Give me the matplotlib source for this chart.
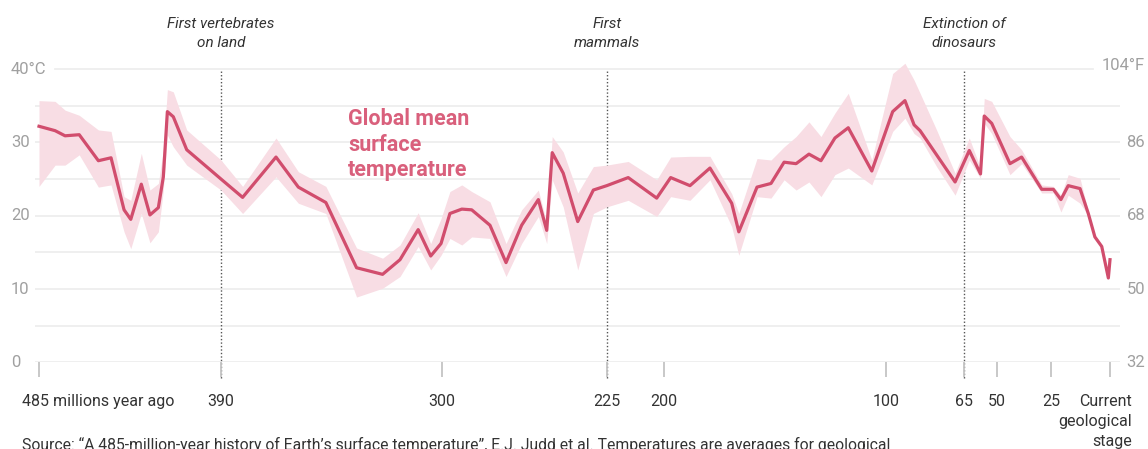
import numpy as np
import matplotlib
matplotlib.use("Agg")
import matplotlib.pyplot as plt
from matplotlib import transforms

# ---------------- data ----------------
ages = [485, 476.6, 471.4, 464.0, 454.0, 447.4, 440.6, 437.1, 431.6, 427.1,
        422.7, 420.1, 418.0, 414.9, 407.9, 390, 381.2, 367.6, 358.5, 347.3,
        334.8, 324.2, 317.1, 309.7, 304.6, 300.4, 296.4, 291.0, 286.5, 278.2,
        270.9, 263.8, 256.2, 252.4, 249.9, 244.9, 238.3, 231.2, 225.1, 215.7,
        203.2, 197.0, 188.3, 179.3, 169.5, 166.3, 158.1, 151.8, 145.9, 140.5,
        134.7, 129.3, 123.0, 117.0, 106.4, 97.0, 91.5, 87.4, 84.7, 77.3,
        69.0, 62.6, 57.5, 55.8, 52.4, 44.0, 38.6, 29.3, 24.0, 20.8,
        17.7, 12.7, 9.2, 6.4, 3.5, 0.7, 0.0]
temp_mean = [32.2, 31.6, 30.9, 31.05, 27.5, 27.9, 20.8, 19.5, 24.3, 20.1,
             21.1, 25.3, 34.2, 33.5, 29.0, 25.0, 22.5, 28.0, 23.9, 21.8,
             12.9, 12.0, 14.0, 18.1, 14.5, 16.2, 20.3, 20.9, 20.8, 18.7,
             13.6, 18.7, 22.2, 18.0, 28.6, 25.8, 19.2, 23.5, 24.1, 25.2,
             22.4, 25.2, 24.1, 26.5, 21.7, 17.8, 23.9, 24.4, 27.3, 27.1,
             28.4, 27.5, 30.6, 32.0, 26.1, 34.2, 35.7, 32.4, 31.6, 28.3,
             24.6, 28.9, 25.7, 33.6, 32.6, 27.1, 28.0, 23.6, 23.6, 22.2,
             24.1, 23.7, 20.3, 17.1, 15.8, 11.5, 14.0]
temp_low = [24.0, 26.9, 26.9, 28.3, 23.9, 24.2, 17.8, 15.5, 20.3, 16.3,
            17.8, 23.5, 31.0, 29.4, 26.9, 23.5, 20.3, 25.3, 21.7, 20.3,
            8.9, 10.1, 11.7, 15.8, 12.6, 14.6, 16.9, 16.0, 17.1, 16.9,
            11.7, 16.2, 19.9, 16.2, 24.9, 21.2, 12.6, 20.3, 21.2, 22.1,
            19.9, 22.6, 22.1, 24.9, 18.5, 14.6, 22.6, 22.4, 24.9, 23.5,
            24.6, 22.6, 25.6, 26.5, 24.2, 31.5, 33.3, 31.2, 30.6, 26.7,
            22.8, 27.6, 25.1, 32.6, 31.2, 25.6, 27.1, 23.1, 23.1, 20.5,
            22.8, 21.7, 20.0, 16.9, 15.6, 11.4, 13.9]
temp_high = [35.7, 35.6, 34.4, 33.7, 31.7, 31.5, 22.6, 22.1, 28.5, 23.5,
             24.4, 29.0, 37.2, 36.9, 31.7, 27.6, 24.0, 30.6, 26.0, 24.0,
             15.6, 14.2, 16.0, 20.4, 16.2, 19.6, 23.3, 24.2, 23.3, 21.9,
             16.2, 20.8, 23.5, 19.0, 30.8, 28.7, 23.1, 26.7, 26.9, 27.4,
             24.9, 28.0, 28.1, 28.1, 23.0, 20.3, 27.8, 27.6, 29.4, 30.8,
             32.8, 30.8, 34.0, 36.7, 27.6, 39.4, 40.8, 38.5, 36.7, 31.7,
             25.8, 30.6, 26.5, 36.0, 35.6, 30.8, 29.0, 24.2, 24.0, 22.8,
             25.6, 25.1, 20.6, 17.3, 16.0, 11.6, 14.1]

xtick_ages = [485, 390, 300, 225, 200, 100, 65, 50, 25, 0]
xtick_labels = ["485 millions year ago", "390", "300", "225", "200", "100",
                "65", "50", "25", "Current\ngeological\nstage"]
ytick_c = [0, 10, 20, 30, 40]
ytick_c_labels = ["0", "10", "20", "30", "40°C"]
ytick_f_labels = ["32", "50", "68", "86", "104°F"]
event_ages = [390, 225, 65]
event_labels = ["First vertebrates\non land", "First\nmammals", "Extinction of\ndinosaurs"]
series_label = "Global mean\nsurface\ntemperature"
source_text = ("Source: \u201cA 485-million-year history of Earth\u2019s surface temperature\u201d, "
               "E.J. Judd et al. Temperatures are averages for geological")

# piecewise-linear time scale of the original chart (age -> horizontal position)
SCALE_AGES = np.array([600, 485, 390, 300, 225, 200, 100, 65, 50, 25, 0, -100], float)
SCALE_POS = np.array([-181, 39, 221, 442, 607, 664, 886, 964, 997, 1051, 1110, 1346], float)


def fwd(a):
    # monotonic increasing in age (axis is then inverted via the limits)
    return -np.interp(-np.asarray(a, float), -SCALE_AGES, SCALE_POS)


def inv(p):
    return np.interp(-np.asarray(p, float), SCALE_POS, SCALE_AGES)


def age_at(px):
    return float(np.interp(px, SCALE_POS, SCALE_AGES))


# ---------------- figure ----------------
W, H = 1148, 449
fig = plt.figure(figsize=(W / 100, H / 100), dpi=100)
ax_left_px, ax_right_px = 35, 1120
y0_px, y42_px = 362.3, 362.3 - 42 * 7.33
ax = fig.add_axes([ax_left_px / W, (H - y0_px) / H,
                   (ax_right_px - ax_left_px) / W, (y0_px - y42_px) / H])
ax.set_xscale("function", functions=(fwd, inv))
ax.set_xlim(age_at(ax_left_px), age_at(ax_right_px))
ax.set_ylim(0, 42)
for s in ax.spines.values():
    s.set_visible(False)
ax.set_yticks([])

FONT = ["Roboto", "DejaVu Sans"]
line_color = "#d14d6d"
band_color = "#f8dde4"

# gridlines
for v in range(0, 45, 5):
    if v == 40:
        ax.axhline(v, xmin=(55 - ax_left_px) / (ax_right_px - ax_left_px),
                   xmax=(1093 - ax_left_px) / (ax_right_px - ax_left_px),
                   color="#ececec", lw=1.2, zorder=0)
    else:
        ax.axhline(v, color="#ececec", lw=1.2, zorder=0)

# band + line
ax.fill_between(ages, temp_low, temp_high, color=band_color, lw=0, zorder=2, clip_on=False)
ax.plot(ages, temp_mean, color=line_color, lw=2.3, zorder=3, solid_joinstyle="round",
        clip_on=False)

# event lines
ax.vlines(event_ages, -2.1, 40, colors="#555555", linestyles=(0, (1, 1.5)), lw=1,
          zorder=1, clip_on=False)
ev_tr = transforms.blended_transform_factory(ax.transData, fig.transFigure)
for a, lab in zip(event_ages, event_labels):
    ax.text(a, (H - 33.5) / H, lab, transform=ev_tr, ha="center", va="center",
            fontsize=11, style="italic", color="#333333", family=FONT,
            linespacing=1.5)

# x ticks
ax.set_xticks(xtick_ages)
ax.set_xticklabels([])
ax.set_xlim(age_at(ax_left_px), age_at(ax_right_px))
ax.tick_params(axis="x", direction="out", length=11, width=1.3, color="#c4c4c4")
for a, lab in zip(xtick_ages, xtick_labels):
    if a == 485:
        tr = ev_tr + transforms.ScaledTranslation(-17 / 100, 0, fig.dpi_scale_trans)
        ha = "left"
    elif a == 0:
        tr = ev_tr + transforms.ScaledTranslation(22 / 100, 0, fig.dpi_scale_trans)
        ha = "right"
    else:
        tr = ev_tr
        ha = "center"
    ax.text(a, (H - 394) / H, lab, transform=tr, ha=ha, va="top", fontsize=11.5,
            color="#333333", family=FONT, linespacing=1.42, multialignment="right")

# y labels
yl_tr = transforms.blended_transform_factory(fig.transFigure, ax.transData)
for v, lc, lf in zip(ytick_c, ytick_c_labels, ytick_f_labels):
    ax.text(11 / W, v, lc, transform=yl_tr, ha="left", va="center", fontsize=12,
            color="#a0a0a0", family=FONT)
    off = transforms.ScaledTranslation(0, 4 / 100 if v == 40 else 0, fig.dpi_scale_trans)
    ax.text(1145 / W, v, lf, transform=yl_tr + off, ha="right", va="center", fontsize=12,
            color="#a0a0a0", family=FONT)

# series label
fig.text(348 / W, (H - 144.7) / H, series_label, ha="left", va="center", fontsize=15.5,
         fontweight="bold", color="#d9607c", family=FONT, linespacing=1.2)

# source
fig.text(22 / W, (H - 437) / H, source_text, ha="left", va="top", fontsize=11.3,
         color="#333333", family=FONT)

fig.savefig("out.png", dpi=100)
